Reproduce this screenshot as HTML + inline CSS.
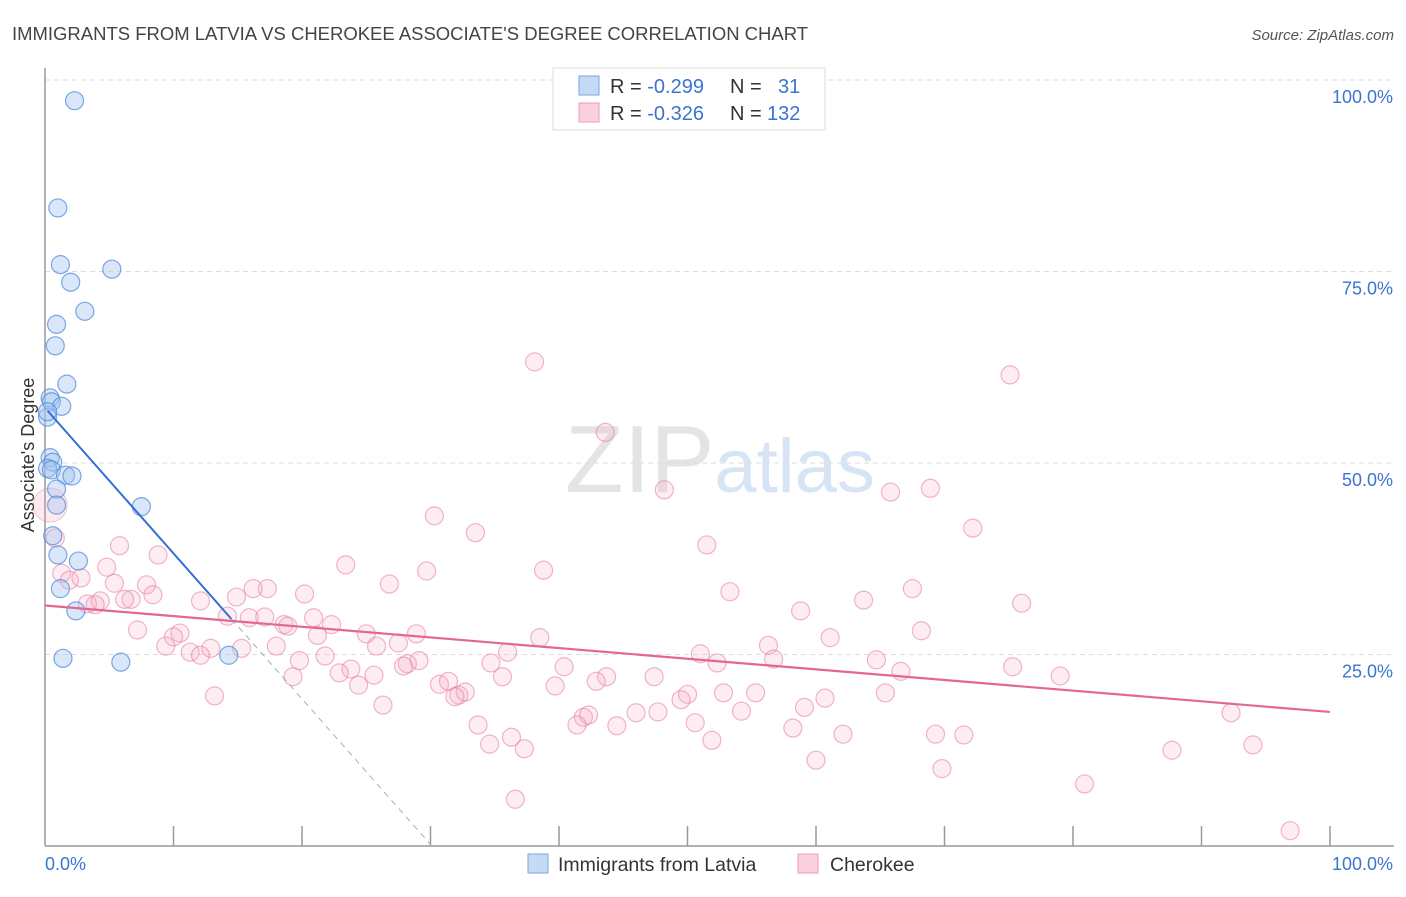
<!DOCTYPE html>
<html><head><meta charset="utf-8"><style>
body{margin:0;background:#fff;font-family:"Liberation Sans",sans-serif}
svg text{font-family:"Liberation Sans",sans-serif}
</style></head><body>
<svg id="chart" width="1406" height="892" xmlns="http://www.w3.org/2000/svg">
<text x="12" y="40" font-size="18" fill="#444" textLength="796" lengthAdjust="spacingAndGlyphs">IMMIGRANTS FROM LATVIA VS CHEROKEE ASSOCIATE'S DEGREE CORRELATION CHART</text>
<text x="1394" y="40" font-size="15" fill="#555" text-anchor="end" font-style="italic">Source: ZipAtlas.com</text>
<text x="720" y="492" font-size="96" text-anchor="middle" fill="#e4e4e4" font-family="Liberation Serif">ZIP<tspan fill="#d6e4f5" font-family="Liberation Sans" font-size="76">atlas</tspan></text>
<g id="grid"></g>
<g id="axes"></g>
<g id="pink"></g>
<g id="blue"></g>
<g id="lines"></g>
<text transform="translate(34,455) rotate(-90)" font-size="18" fill="#333" text-anchor="middle">Associate's Degree</text>
<g>
<rect x="553" y="68" width="272" height="62" fill="#fff" stroke="#ddd"/>
<rect x="579" y="76" width="20" height="19" fill="#c5daf5" stroke="#7aa7e0"/>
<rect x="579" y="103" width="20" height="19" fill="#fbd0dd" stroke="#ef9ab6"/>
<text x="610" y="93" font-size="20" fill="#333">R = <tspan fill="#3b74d1">-0.299</tspan><tspan x="730">N = </tspan><tspan x="778" fill="#3b74d1">31</tspan></text>
<text x="610" y="120" font-size="20" fill="#333">R = <tspan fill="#3b74d1">-0.326</tspan><tspan x="730">N = </tspan><tspan x="767" fill="#3b74d1">132</tspan></text>
</g>
<g>
<rect x="528" y="854" width="20" height="19" fill="#c5daf5" stroke="#7aa7e0"/>
<text x="558" y="871" font-size="19.5" fill="#333">Immigrants from Latvia</text>
<rect x="798" y="854" width="20" height="19" fill="#fbd0dd" stroke="#ef9ab6"/>
<text x="830" y="871" font-size="19.5" fill="#333">Cherokee</text>
</g>
</svg>
<script>
const blueX=[2.3,1.0,1.2,5.2,2.0,3.1,0.9,0.8,1.7,0.4,0.5,1.3,0.2,0.2,0.4,0.6,0.2,0.5,1.6,2.1,0.9,0.9,7.5,0.6,1.0,2.6,1.2,2.4,1.4,5.9,14.3];
const blueY=[97.3,83.3,75.9,75.3,73.6,69.8,68.1,65.3,60.3,58.5,58.0,57.4,56.0,56.7,50.7,50.1,49.3,49.1,48.4,48.3,46.6,44.5,44.3,40.5,38.0,37.2,33.6,30.7,24.5,24.0,24.9];
const pinkX=[38.1,75.1,43.6,48.2,65.8,68.9,30.3,33.5,72.2,0.8,5.8,51.5,8.8,23.4,38.8,29.7,4.8,1.3,1.9,2.8,26.8,5.4,7.9,17.3,16.2,14.9,8.4,20.2,53.3,67.5,6.7,6.2,63.7,12.1,4.3,3.3,3.9,76.0,58.8,14.2,15.9,17.1,20.9,18.6,18.9,22.3,7.2,68.2,10.5,10.0,21.2,25.0,28.9,61.1,38.5,56.3,9.4,12.9,15.3,27.5,18.0,25.8,11.3,12.1,36.0,51.0,21.8,34.7,64.7,56.7,19.8,29.1,28.2,52.3,40.4,27.9,23.8,66.6,75.3,79.0,19.3,25.6,22.9,35.6,43.7,42.9,47.4,30.7,31.4,24.4,39.7,13.2,32.2,32.7,31.9,50.0,49.5,52.8,55.3,65.4,60.7,26.3,59.1,54.2,46.0,47.7,41.9,42.3,41.4,44.5,33.7,50.6,58.2,92.3,69.3,71.5,36.3,51.9,62.1,34.6,37.3,87.7,94.0,60.0,69.8,80.9,36.6,96.9];
const pinkY=[63.2,61.5,54.0,46.5,46.2,46.7,43.1,40.9,41.5,40.2,39.2,39.3,38.0,36.7,36.0,35.9,36.4,35.6,34.7,35.0,34.2,34.3,34.1,33.6,33.6,32.5,32.8,32.9,33.2,33.6,32.2,32.2,32.1,32.0,32.0,31.6,31.5,31.7,30.7,30.0,29.8,29.9,29.8,28.9,28.7,28.9,28.2,28.1,27.8,27.3,27.5,27.7,27.7,27.2,27.2,26.2,26.1,25.8,25.8,26.5,26.1,26.1,25.3,24.9,25.3,25.1,24.8,23.9,24.3,24.4,24.2,24.2,23.8,23.9,23.4,23.5,23.1,22.8,23.4,22.2,22.1,22.3,22.6,22.1,22.1,21.5,22.1,21.1,21.5,21.0,20.9,19.6,19.7,20.1,19.5,19.8,19.1,20.0,20.0,20.0,19.3,18.4,18.1,17.6,17.4,17.5,16.8,17.1,15.8,15.7,15.8,16.1,15.4,17.4,14.6,14.5,14.2,13.8,14.6,13.3,12.7,12.5,13.2,11.2,10.1,8.1,6.1,2.0];
const yTicks=[25,50,75,100];
const yTickLabels=["25.0%","50.0%","75.0%","100.0%"];
const xTicks=[0,10,20,30,40,50,60,70,80,90,100];
const blueFit=[57.2,-1.9];   // intercept, slope
const pinkFit=[31.4,-0.139];
const NS="http://www.w3.org/2000/svg";
const X=v=>45+v*12.85, Y=v=>846-v*7.66;
function mk(parent,tag,attrs){const e=document.createElementNS(NS,tag);for(const k in attrs)e.setAttribute(k,attrs[k]);document.getElementById(parent).appendChild(e);return e;}
yTicks.forEach((t,i)=>{
 const g=mk('grid','line',{x1:45,x2:1394,y1:Y(t),y2:Y(t),stroke:'#ddd','stroke-dasharray':'5,4'});
 
 
 const tx=mk('grid','text',{x:1393,y:Y(t)+23,'font-size':18,fill:'#3b74d1','text-anchor':'end'});
 tx.textContent=yTickLabels[i];
 
 
});
let a=mk('axes','line',{x1:45,x2:45,y1:68,y2:846,stroke:'#999','stroke-width':1.5});


a=mk('axes','line',{x1:45,x2:1394,y1:846,y2:846,stroke:'#999','stroke-width':1.5});


xTicks.forEach(t=>{if(t===0)return;
 const l=mk('axes','line',{x1:X(t),x2:X(t),y1:826,y2:846,stroke:'#999','stroke-width':1.5});
 
 });
let t0=mk('axes','text',{x:45,y:870,'font-size':18,fill:'#3b74d1'});t0.textContent='0.0%';


let t1=mk('axes','text',{x:1393,y:870,'font-size':18,fill:'#3b74d1','text-anchor':'end'});t1.textContent='100.0%';


const big=mk('pink','circle',{cx:X(0.4),cy:Y(44.5),r:17,fill:'rgba(240,150,180,0.2)',stroke:'rgba(230,120,160,0.4)'});


pinkX.forEach((x,i)=>{const c=mk('pink','circle',{cx:X(x),cy:Y(pinkY[i]),r:9,fill:'rgba(245,170,195,0.22)',stroke:'rgba(232,120,160,0.55)','stroke-width':1.2});
 
 });
blueX.forEach((x,i)=>{const c=mk('blue','circle',{cx:X(x),cy:Y(blueY[i]),r:9,fill:'rgba(160,195,240,0.4)',stroke:'rgba(80,140,220,0.75)','stroke-width':1.2});
 
 });
const bf=x=>blueFit[0]+blueFit[1]*x, pf=x=>pinkFit[0]+pinkFit[1]*x;
const xEnd=-blueFit[0]/blueFit[1];
let l=mk('lines','line',{x1:X(0.2),y1:Y(bf(0.2)),x2:X(14.5),y2:Y(bf(14.5)),stroke:'#2f6fd6','stroke-width':2});


l=mk('lines','line',{x1:X(14.5),y1:Y(bf(14.5)),x2:X(xEnd),y2:Y(0),stroke:'#9ab0cc','stroke-width':1,'stroke-dasharray':'6,5'});


l=mk('lines','line',{x1:X(0),y1:Y(pf(0)),x2:X(100),y2:Y(pf(100)),stroke:'#e2688f','stroke-width':2.2});


</script>
</body></html>
